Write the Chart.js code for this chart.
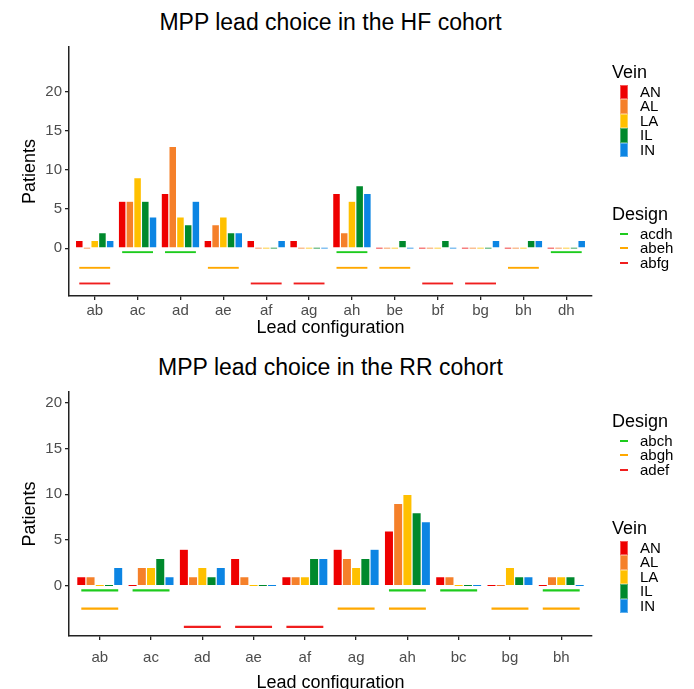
<!DOCTYPE html>
<html>
<head>
<meta charset="utf-8">
<script src="https://cdn.jsdelivr.net/npm/chart.js@4"></script>
<style>
  body { margin: 0; background: #fff; font-family: "Liberation Sans", Arial, sans-serif; }
  #page { position: relative; width: 694px; height: 689px; overflow: hidden; }
  canvas { position: absolute; left: 0; }
  .title { position: absolute; left: 69px; width: 523px; text-align: center; font-size: 23px; line-height: 28px; color: #000; }
  .leg { position: absolute; left: 612px; font-size: 15px; }
  .leg .head { font-size: 18px; line-height: 22px; color: #000; margin-bottom: 2px; }
  .leg .row { position: relative; height: 14.4px; line-height: 14.4px; }
  .leg .sw { position: absolute; left: 8px; top: 0; width: 8px; height: 14.4px; box-sizing: border-box; border: 1px solid rgba(255,255,255,0.35); }
  .leg .ln { position: absolute; left: 8px; top: 6px; width: 8px; height: 2px; }
  .leg .lab { position: absolute; left: 28px; top: 0; }
  .leg .vein .lab { color: #000; }
  .leg .design .lab { color: #555; font-size: 16px; }
</style>
</head>
<body>
<div id="page">
  <div class="title" style="top:8px">MPP lead choice in the HF cohort</div>
  <canvas id="hf" width="694" height="340" style="top:0"></canvas>
  <div class="title" style="top:353px">MPP lead choice in the RR cohort</div>
  <canvas id="rr" width="694" height="349" style="top:340px"></canvas>
  <div id="legHF"></div>
  <div id="legRR"></div>
</div>
<script>
// Vein counts per lead configuration, HF cohort
const hfLeads = ["ab", "ac", "ad", "ae", "af", "ag", "ah", "be", "bf", "bg", "bh", "dh"];
const hfAN = [1, 6, 7, 1, 1, 1, 7, 0, 0, 0, 0, 0];
const hfAL = [0, 6, 13, 3, 0, 0, 2, 0, 0, 0, 0, 0];
const hfLA = [1, 9, 4, 4, 0, 0, 6, 0, 0, 0, 0, 0];
const hfIL = [2, 6, 3, 2, 0, 0, 8, 1, 1, 0, 1, 0];
const hfIN = [1, 4, 6, 2, 1, 0, 7, 0, 0, 1, 1, 1];
const hfDesignNames = ["acdh", "abeh", "abfg"];
const hfAcdh = ["ac", "ad", "ah", "dh"];
const hfAbeh = ["ab", "ae", "ah", "be", "bh"];
const hfAbfg = ["ab", "af", "ag", "bf", "bg"];

// RR cohort
const rrLeads = ["ab", "ac", "ad", "ae", "af", "ag", "ah", "bc", "bg", "bh"];
const rrAN = [1, 0, 4, 3, 1, 4, 6, 1, 0, 0];
const rrAL = [1, 2, 1, 1, 1, 3, 9, 1, 0, 1];
const rrLA = [0, 2, 2, 0, 1, 2, 10, 0, 2, 1];
const rrIL = [0, 3, 1, 0, 3, 3, 8, 0, 1, 1];
const rrIN = [2, 1, 2, 0, 3, 4, 7, 0, 1, 0];
const rrDesignNames = ["abch", "abgh", "adef"];
const rrAbch = ["ab", "ac", "ah", "bc", "bh"];
const rrAbgh = ["ab", "ag", "ah", "bg", "bh"];
const rrAdef = ["ad", "ae", "af"];

const veinNames = ["AN", "AL", "LA", "IL", "IN"];
const designLevels = [-0.5, -2.5, -4.5];
const yTicks = [0, 5, 10, 15, 20];

const veinColors = ["#EE0000", "#F5802A", "#FFC000", "#00892C", "#0C85E3"];
const designColors = ["#1DCB1D", "#FFA800", "#F01E1E"];
const FONT = "'Liberation Sans', Arial, sans-serif";

function makeChart(id, leads, veins, designs, yMin, yMax) {
  const datasets = veins.map((vals, k) => ({
    label: veinNames[k],
    data: vals.map((v, i) => ({ x: i, y: v })),
    backgroundColor: veinColors[k],
    borderColor: "rgba(255,255,255,0.3)",
    borderWidth: 0.6,
    borderSkipped: "start",
    minBarLength: 1.5,
    categoryPercentage: 0.9,
    barPercentage: 1,
  }));
  designs.forEach((members, k) => {
    datasets.push({
      label: "design" + k,
      data: members.map((m) => ({ x: leads.indexOf(m), y: [designLevels[k] - 0.12, designLevels[k] + 0.12] })),
      backgroundColor: designColors[k],
      borderWidth: 0,
      grouped: false,
      barPercentage: 0.9,
    });
  });

  const axisColor = "#222";
  const top = id === "hf";
  return new Chart(document.getElementById(id), {
    type: "bar",
    data: { datasets },
    options: {
      responsive: false,
      animation: false,
      devicePixelRatio: 1,
      layout: { padding: { top: top ? 47 : 52, right: 102, left: 0, bottom: 0 } },
      plugins: { legend: { display: false }, tooltip: { enabled: false } },
      scales: {
        x: {
          type: "linear",
          offset: false,
          min: -0.6,
          max: leads.length - 0.4,
          afterBuildTicks: (s) => { s.ticks = leads.map((_, i) => ({ value: i })); },
          afterFit: (s) => { s.height = top ? 44 : 53; },
          ticks: { callback: (v) => leads[v], color: "#4D4D4D", font: { family: FONT, size: 15 }, padding: top ? 2 : 9, maxRotation: 0, autoSkip: false },
          grid: { display: true, offset: false, drawOnChartArea: false, drawTicks: true, tickLength: 4, color: axisColor, lineWidth: 1.3 },
          border: { display: true, color: axisColor, width: 1.5 },
          title: { display: true, text: "Lead configuration", color: "#000", font: { family: FONT, size: 18 }, padding: { top: 0, bottom: top ? 1 : -5 } },
        },
        y: {
          min: yMin,
          max: yMax,
          afterBuildTicks: (s) => { s.ticks = yTicks.map((v) => ({ value: v })); },
          afterFit: (s) => { s.width = 69; },
          ticks: { color: "#4D4D4D", font: { family: FONT, size: 15 }, padding: 3 },
          grid: { display: true, drawOnChartArea: false, drawTicks: true, tickLength: 4, color: axisColor, lineWidth: 1.3 },
          border: { display: true, color: axisColor, width: 1.5 },
          title: { display: true, text: "Patients", color: "#000", font: { family: FONT, size: 18 }, padding: { top: 19, bottom: 0 } },
        },
      },
    },
  });
}

function veinLegend(top) {
  let h = '<div class="leg vein" style="top:' + top + 'px"><div class="head">Vein</div>';
  veinNames.forEach((n, k) => {
    h += '<div class="row"><div class="sw" style="background:' + veinColors[k] + '"></div><div class="lab">' + n + '</div></div>';
  });
  return h + "</div>";
}
function designLegend(top, names) {
  let h = '<div class="leg design" style="top:' + top + 'px"><div class="head">Design</div>';
  names.forEach((n, k) => {
    h += '<div class="row"><div class="ln" style="background:' + designColors[k] + '"></div><div class="lab">' + n + '</div></div>';
  });
  return h + "</div>";
}

makeChart("hf", hfLeads, [hfAN, hfAL, hfLA, hfIL, hfIN], [hfAcdh, hfAbeh, hfAbfg], -6.1, 25.7);
makeChart("rr", rrLeads, [rrAN, rrAL, rrLA, rrIL, rrIN], [rrAbch, rrAbgh, rrAdef], -5.5, 21.2);

document.getElementById("legHF").innerHTML = veinLegend(61) + designLegend(203, hfDesignNames);
document.getElementById("legRR").innerHTML = designLegend(410, rrDesignNames) + veinLegend(517);
</script>
</body>
</html>
